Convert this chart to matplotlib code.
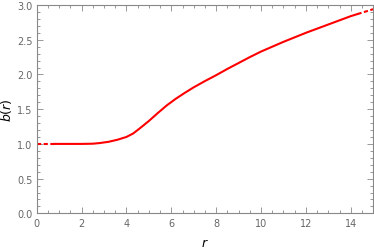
import numpy as np
import matplotlib
matplotlib.use("Agg")
import matplotlib.pyplot as plt
from matplotlib.ticker import MultipleLocator

# values
r_vals = [0, 0.8, 1.5, 2, 2.5, 2.8, 3.2, 3.6, 4.0, 4.3, 4.6, 5.0, 5.4, 5.8, 6.2, 6.6, 7.0,
          7.5, 8, 8.5, 9, 9.5, 10, 11, 12, 13, 14, 14.3, 15]
b_vals = [1.0, 1.0, 1.0, 1.0, 1.003, 1.012, 1.03, 1.06, 1.10, 1.15, 1.225, 1.33, 1.445, 1.555, 1.65, 1.735, 1.815,
          1.905, 1.99, 2.08, 2.165, 2.25, 2.33, 2.47, 2.60, 2.72, 2.84, 2.87, 2.94]
dash_start = 0.8    # dashed before this r
dash_end = 14.3     # dashed after this r

r = np.array(r_vals)
b = np.array(b_vals)

fig = plt.figure(figsize=(3.74, 2.51), dpi=100)
ax = fig.add_axes([0.098, 0.146, 0.9, 0.83])

red = '#ff0000'
lo = r <= dash_start
mid = (r >= dash_start) & (r <= dash_end)
hi = r >= dash_end
ax.plot(r[lo], b[lo], color=red, lw=1.5, ls=(0, (2, 1.2)))
ax.plot(r[mid], b[mid], color=red, lw=1.5, solid_joinstyle='round')
ax.plot(r[hi], b[hi], color=red, lw=1.5, ls=(0, (2, 1.2)))

ax.set_xlim(0, 15)
ax.set_ylim(0, 3)
ax.xaxis.set_major_locator(MultipleLocator(2))
ax.xaxis.set_minor_locator(MultipleLocator(0.5))
ax.yaxis.set_major_locator(MultipleLocator(0.5))
ax.yaxis.set_minor_locator(MultipleLocator(0.1))
ax.yaxis.set_major_formatter(plt.FormatStrFormatter('%.1f'))

gray = '#888888'
for s in ax.spines.values():
    s.set_color(gray)
    s.set_linewidth(0.8)
ax.tick_params(which='both', direction='in', top=True, right=True,
               color=gray, width=0.6, labelcolor='#666666', labelsize=7)
ax.tick_params(which='major', length=4, pad=3)
ax.tick_params(which='minor', length=2)

ax.set_xlabel('$r$', fontsize=9, labelpad=6)
ax.set_ylabel('$b(r)$', fontsize=9, labelpad=2)

fig.savefig('out.png', dpi=100)
